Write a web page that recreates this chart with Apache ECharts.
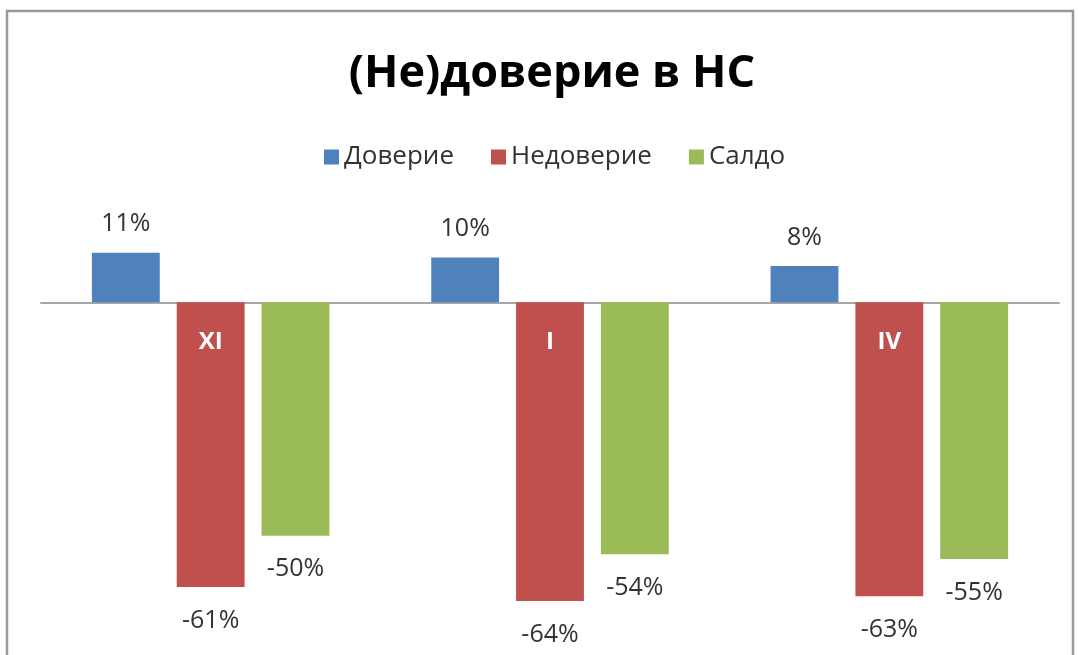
<!DOCTYPE html>
<html>
<head>
<meta charset="utf-8">
<script src="https://cdn.jsdelivr.net/npm/echarts@6/dist/echarts.min.js"></script>
<style>
html,body{margin:0;padding:0;background:#fff;}
#chart{width:1078px;height:655px;}
</style>
</head>
<body>
<div id="chart"></div>
<script>
const categories = ['XI', 'I', 'IV'];
const seriesNames = ['Доверие', 'Недоверие', 'Салдо'];
const trust = [10.6, 9.6, 7.8];
const distrust = [-61, -64, -63];
const saldo = [-50, -54, -55];
const titleText = '(Не)доверие в НС';

const colors = ['#4F81BD', '#C0504D', '#9BBB59'];
const FONT = '"Open Sans", "DejaVu Sans", sans-serif';
const fmt = p => Math.round(p.value) + '%';

const chart = echarts.init(document.getElementById('chart'), null, {renderer: 'canvas'});
chart.setOption({
  animation: false,
  backgroundColor: '#fff',
  color: colors,
  title: {
    text: titleText,
    left: 547,
    textAlign: 'center',
    top: 47,
    textStyle: {fontFamily: FONT, fontWeight: 'bold', fontSize: 45, color: '#000'}
  },
  legend: {
    data: seriesNames,
    top: 139,
    left: 319,
    icon: 'rect',
    itemWidth: 15,
    itemHeight: 15,
    itemGap: 37,
    textStyle: {fontFamily: FONT, fontSize: 26, color: '#333'}
  },
  graphic: [{
    type: 'rect',
    shape: {x: 7, y: 11, width: 1066, height: 700},
    style: {fill: 'none', stroke: '#9a9a9a', lineWidth: 2.5},
    silent: true
  }],
  grid: {left: 41, right: 19, top: 209, bottom: 26, containLabel: false, outerBoundsMode: 'none'},
  xAxis: {
    type: 'category',
    data: categories,
    axisLine: {onZero: true, lineStyle: {color: '#A6A6A6', width: 2}},
    axisTick: {show: false},
    axisLabel: {show: false},
    splitLine: {show: false}
  },
  yAxis: {
    type: 'value', min: -70, max: 20, show: false,
    splitLine: {show: false}
  },
  series: [
    {name: seriesNames[0], type: 'bar', data: trust, barGap: '25%', barCategoryGap: '30%',
     label: {show: true, position: 'top', distance: 16, formatter: fmt, fontFamily: FONT, fontSize: 25, color: '#333'}},
    {name: seriesNames[1], type: 'bar', data: distrust, barGap: '25%', barCategoryGap: '30%',
     label: {show: true, position: 'bottom', distance: 21, formatter: fmt, fontFamily: FONT, fontSize: 25, color: '#333'},
     markPoint: {
       symbol: 'rect',
       symbolSize: 1,
       itemStyle: {color: 'rgba(0,0,0,0)'},
       silent: true,
       label: {show: true, position: 'inside', offset: [0, 40], formatter: '{b}',
               color: '#fff', fontWeight: 'bold', fontSize: 24, fontFamily: FONT},
       data: categories.map((c, i) => ({name: c, coord: [i, 0]}))
     }},
    {name: seriesNames[2], type: 'bar', data: saldo, barGap: '25%', barCategoryGap: '30%',
     label: {show: true, position: 'bottom', distance: 21, formatter: fmt, fontFamily: FONT, fontSize: 25, color: '#333'}}
  ]
});
</script>
</body>
</html>
